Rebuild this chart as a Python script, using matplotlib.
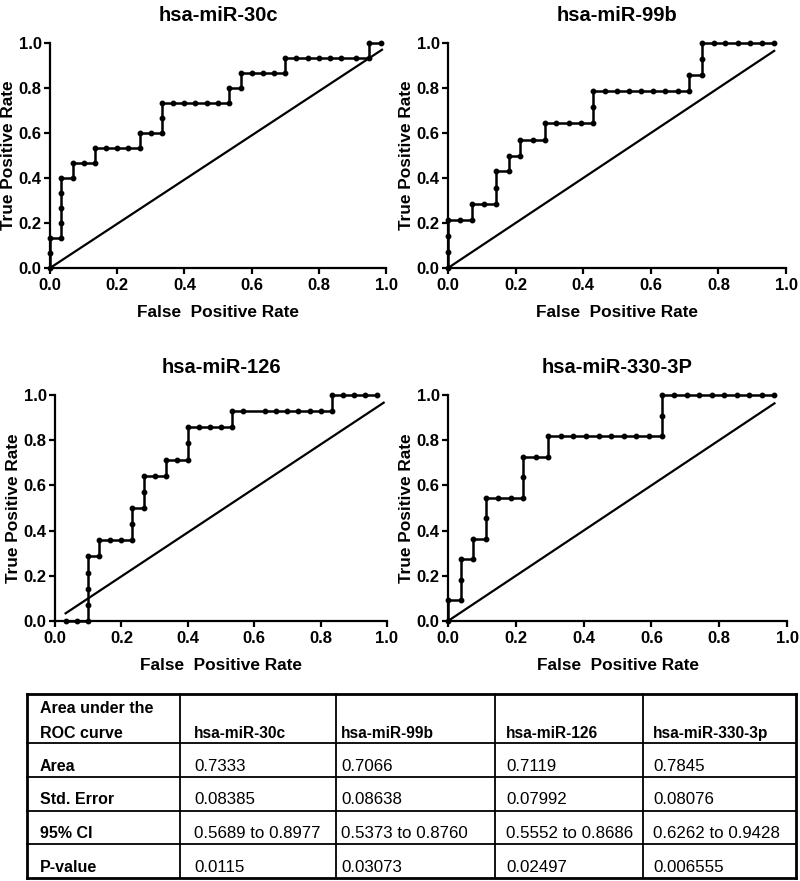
import matplotlib
matplotlib.use("Agg")
import matplotlib.pyplot as plt

plt.rcParams['font.family'] = ['Liberation Sans', 'DejaVu Sans']

# ---- ROC curve points (FPR, TPR) ----
titles = ['hsa-miR-30c', 'hsa-miR-99b', 'hsa-miR-126', 'hsa-miR-330-3P']

fpr_30c = [0, 0, 0, 0.033, 0.033, 0.033, 0.033, 0.033, 0.067, 0.067, 0.1, 0.133, 0.133,
           0.167, 0.2, 0.233, 0.267, 0.267, 0.3, 0.333, 0.333, 0.333, 0.367, 0.4, 0.433,
           0.467, 0.5, 0.533, 0.533, 0.567, 0.567, 0.6, 0.633, 0.667, 0.7, 0.7, 0.733,
           0.767, 0.8, 0.833, 0.867, 0.91, 0.95, 0.95, 0.985]
tpr_30c = [0, 0.067, 0.133, 0.133, 0.2, 0.267, 0.333, 0.4, 0.4, 0.467, 0.467, 0.467, 0.533,
           0.533, 0.533, 0.533, 0.533, 0.6, 0.6, 0.6, 0.667, 0.733, 0.733, 0.733, 0.733,
           0.733, 0.733, 0.733, 0.8, 0.8, 0.867, 0.867, 0.867, 0.867, 0.867, 0.933, 0.933,
           0.933, 0.933, 0.933, 0.933, 0.933, 0.933, 1.0, 1.0]

fpr_99b = [0, 0, 0, 0, 0.036, 0.071, 0.071, 0.107, 0.143, 0.143, 0.143, 0.179, 0.179,
           0.214, 0.214, 0.25, 0.286, 0.286, 0.321, 0.357, 0.393, 0.429, 0.429, 0.429,
           0.464, 0.5, 0.536, 0.571, 0.607, 0.643, 0.679, 0.714, 0.714, 0.75, 0.75, 0.75,
           0.786, 0.821, 0.857, 0.893, 0.929, 0.964]
tpr_99b = [0, 0.071, 0.143, 0.214, 0.214, 0.214, 0.286, 0.286, 0.286, 0.357, 0.429, 0.429,
           0.5, 0.5, 0.571, 0.571, 0.571, 0.643, 0.643, 0.643, 0.643, 0.643, 0.714, 0.786,
           0.786, 0.786, 0.786, 0.786, 0.786, 0.786, 0.786, 0.786, 0.857, 0.857, 0.929, 1.0,
           1.0, 1.0, 1.0, 1.0, 1.0, 1.0]

fpr_126 = [0.033, 0.067, 0.1, 0.1, 0.1, 0.1, 0.1, 0.133, 0.133, 0.167, 0.2, 0.233, 0.233,
           0.233, 0.267, 0.267, 0.267, 0.3, 0.333, 0.333, 0.367, 0.4, 0.4, 0.4, 0.433,
           0.467, 0.5, 0.533, 0.533, 0.567, 0.633, 0.667, 0.7, 0.733, 0.767, 0.8, 0.833,
           0.833, 0.867, 0.9, 0.933, 0.97]
tpr_126 = [0, 0, 0, 0.071, 0.143, 0.214, 0.286, 0.286, 0.357, 0.357, 0.357, 0.357, 0.429,
           0.5, 0.5, 0.571, 0.643, 0.643, 0.643, 0.714, 0.714, 0.714, 0.786, 0.857, 0.857,
           0.857, 0.857, 0.857, 0.929, 0.929, 0.929, 0.929, 0.929, 0.929, 0.929, 0.929,
           0.929, 1.0, 1.0, 1.0, 1.0, 1.0]

fpr_330 = [0, 0, 0.037, 0.037, 0.037, 0.074, 0.074, 0.111, 0.111, 0.111, 0.148, 0.185,
           0.222, 0.222, 0.222, 0.259, 0.296, 0.296, 0.333, 0.37, 0.407, 0.444, 0.481,
           0.519, 0.556, 0.593, 0.63, 0.63, 0.63, 0.667, 0.704, 0.741, 0.778, 0.815,
           0.852, 0.889, 0.926, 0.963]
tpr_330 = [0, 0.091, 0.091, 0.182, 0.273, 0.273, 0.364, 0.364, 0.455, 0.545, 0.545, 0.545,
           0.545, 0.636, 0.727, 0.727, 0.727, 0.818, 0.818, 0.818, 0.818, 0.818, 0.818,
           0.818, 0.818, 0.818, 0.818, 0.909, 1.0, 1.0, 1.0, 1.0, 1.0, 1.0, 1.0, 1.0, 1.0, 1.0]

# reference (chance) lines
diag_x = [[0, 0.988], [0, 0.965], [0.032, 0.99], [0, 0.963]]
diag_y = [[0, 0.97], [0, 0.965], [0.034, 0.966], [0, 0.963]]

# ---- table ----
tab_header = ['Area under the\nROC curve', 'hsa-miR-30c', 'hsa-miR-99b', 'hsa-miR-126', 'hsa-miR-330-3p']
row_labels = ['Area', 'Std. Error', '95% CI', 'P-value']
area = ['0.7333', '0.7066', '0.7119', '0.7845']
std_err = ['0.08385', '0.08638', '0.07992', '0.08076']
ci95 = ['0.5689 to 0.8977', '0.5373 to 0.8760', '0.5552 to 0.8686', '0.6262 to 0.9428']
p_value = ['0.0115', '0.03073', '0.02497', '0.006555']

W, H = 800, 881
fig = plt.figure(figsize=(W / 100, H / 100), dpi=100)

# axes boxes in pixels: (x0, x1, y_top, y_bottom)
boxes = [(50, 386, 43, 268), (448, 786, 43, 268), (55, 387, 395, 621), (448, 787, 395, 621)]
curves = [(fpr_30c, tpr_30c), (fpr_99b, tpr_99b), (fpr_126, tpr_126), (fpr_330, tpr_330)]

for i, (x0, x1, yt, yb) in enumerate(boxes):
    ax = fig.add_axes([x0 / W, (H - yb) / H, (x1 - x0) / W, (yb - yt) / H])
    fx, ty = curves[i]
    ax.plot(fx, ty, color='black', lw=1.8, marker='o', markersize=3.2, clip_on=False, zorder=3)
    ax.plot(diag_x[i], diag_y[i], color='black', lw=1.6, clip_on=False)
    ax.set_xlim(0, 1)
    ax.set_ylim(0, 1)
    ax.set_xticks([0, 0.2, 0.4, 0.6, 0.8, 1.0])
    ax.set_yticks([0, 0.2, 0.4, 0.6, 0.8, 1.0])
    ax.set_xticklabels(['0.0', '0.2', '0.4', '0.6', '0.8', '1.0'])
    ax.set_yticklabels(['0.0', '0.2', '0.4', '0.6', '0.8', '1.0'])
    for s in ['top', 'right']:
        ax.spines[s].set_visible(False)
    for s in ['left', 'bottom']:
        ax.spines[s].set_linewidth(1.6)
    ax.tick_params(axis='both', direction='out', length=4, width=1.6, labelsize=12)
    ax.tick_params(axis='y', pad=2)
    ax.tick_params(axis='x', pad=3.5)
    for lab in ax.get_xticklabels() + ax.get_yticklabels():
        lab.set_fontweight('bold')
    ax.set_title(titles[i], fontsize=14.5, fontweight='bold', pad=16)
    ax.set_xlabel('False  Positive Rate', fontsize=12.4, fontweight='bold', labelpad=8)
    ax.set_ylabel('True Positive Rate', fontsize=12.4, fontweight='bold', labelpad=2)

# table drawn in pixel units
tx0, tx1, ty0, ty1 = 27, 796, 694, 878
tax = fig.add_axes([tx0 / W, (H - ty1) / H, (tx1 - tx0) / W, (ty1 - ty0) / H])
tax.set_xlim(tx0, tx1)
tax.set_ylim(ty1, ty0)
tax.axis('off')

col_edges = [27, 180, 336, 495, 643, 796]
row_edges = [694, 743, 777, 811, 844, 878]
for xe in col_edges:
    lw = 2.0 if xe in (col_edges[0], col_edges[-1]) else 1.3
    tax.plot([xe, xe], [ty0, ty1], color='black', lw=lw, clip_on=False, solid_capstyle='projecting')
for ye in row_edges:
    lw = 2.0 if ye in (row_edges[0], row_edges[-1]) else 1.3
    tax.plot([tx0, tx1], [ye, ye], color='black', lw=lw, clip_on=False, solid_capstyle='projecting')

text_x = [40, 194, 341, 506, 653]
tax.text(text_x[0], 708, 'Area under the', fontsize=11.5, fontweight='bold', va='center')
tax.text(text_x[0], 733, 'ROC curve', fontsize=11.5, fontweight='bold', va='center')
for j, h in enumerate(tab_header[1:]):
    tax.text(text_x[j + 1], 733, h, fontsize=11.2, fontweight='bold', va='center')

rows = [area, std_err, ci95, p_value]
row_y = [766, 799, 833, 867]
for r, (lab, vals) in enumerate(zip(row_labels, rows)):
    tax.text(text_x[0], row_y[r], lab, fontsize=11.5, fontweight='bold', va='center')
    for j, v in enumerate(vals):
        tax.text(text_x[j + 1], row_y[r], v, fontsize=12.2, va='center')

fig.savefig('out.png', dpi=100)
